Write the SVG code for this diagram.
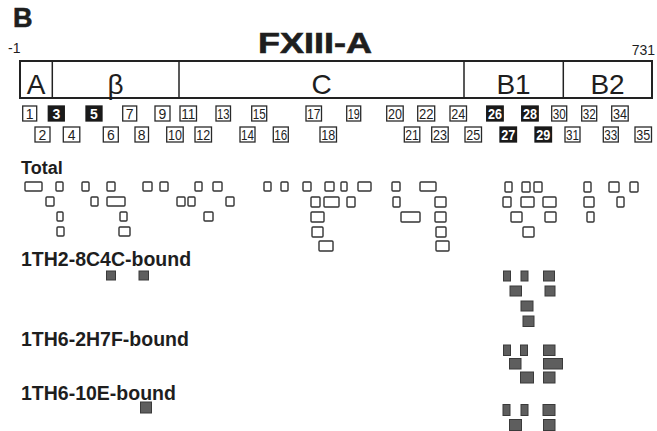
<svg xmlns="http://www.w3.org/2000/svg" width="657" height="431" viewBox="0 0 657 431">
<style>
text{font-family:"Liberation Sans",Arial,sans-serif;fill:#1e1e1e}
.nb{fill:#fff;stroke:#2a2a2a;stroke-width:1.3}
.nbd{fill:#1a1a1a;stroke:#1a1a1a;stroke-width:1.3}
.nt{font-size:14px;text-anchor:middle}
.ntd{font-size:14px;text-anchor:middle;fill:#fff;font-weight:bold}
.tb{fill:#fff;stroke:#333;stroke-width:1.4}
.gb{fill:#5e5e5e;stroke:#3a3a3a;stroke-width:1}
.lbl{font-size:19.5px;font-weight:bold}
.dom{font-size:28px;text-anchor:middle}
</style>
<rect width="657" height="431" fill="#fff"/>
<g id="header">
<text x="13" y="27" font-size="27" font-weight="bold" fill="#444" stroke="#222" stroke-width="0.6">B</text>
<text x="258" y="53" font-size="29" font-weight="bold" fill="#3c3c3c" stroke="#222" stroke-width="0.6" textLength="114" lengthAdjust="spacingAndGlyphs">FXIII-A</text>
<text x="8" y="53" font-size="14">-1</text>
<text x="655" y="55" font-size="14" text-anchor="end">731</text>
</g>
<g id="domain-bar">
<rect x="20" y="61" width="632" height="37" fill="#fff" stroke="#222" stroke-width="2"/>
<line x1="52.3" y1="61" x2="52.3" y2="98" stroke="#222" stroke-width="1.5"/>
<line x1="179" y1="61" x2="179" y2="98" stroke="#222" stroke-width="1.5"/>
<line x1="464" y1="61" x2="464" y2="98" stroke="#222" stroke-width="1.5"/>
<line x1="563.3" y1="61" x2="563.3" y2="98" stroke="#222" stroke-width="1.5"/>
<text class="dom" x="36" y="94">A</text>
<text class="dom" x="115.5" y="94">β</text>
<text class="dom" x="321.5" y="94">C</text>
<text class="dom" x="513.5" y="94">B1</text>
<text class="dom" x="607.5" y="94">B2</text>
</g>
<g id="epitopes">
<g id="n1"><rect class="nb" x="22.7" y="106" width="14" height="15"/><text class="nt" x="29.7" y="119">1</text></g>
<g id="n3"><rect class="nbd" x="48.3" y="106" width="16" height="15"/><text class="ntd" x="56.3" y="119">3</text></g>
<g id="n5"><rect class="nbd" x="86" y="106" width="16" height="15"/><text class="ntd" x="94" y="119">5</text></g>
<g id="n7"><rect class="nb" x="122.7" y="106" width="14" height="15"/><text class="nt" x="129.7" y="119">7</text></g>
<g id="n9"><rect class="nb" x="155" y="106" width="15" height="15"/><text class="nt" x="162.5" y="119">9</text></g>
<g id="n11"><rect class="nb" x="180" y="106" width="16.5" height="15"/><text class="nt" x="188.25" y="119" textLength="14" lengthAdjust="spacingAndGlyphs">11</text></g>
<g id="n13"><rect class="nb" x="216" y="106" width="14.5" height="15"/><text class="nt" x="223.25" y="119" textLength="12.5" lengthAdjust="spacingAndGlyphs">13</text></g>
<g id="n15"><rect class="nb" x="251.7" y="106" width="15" height="15"/><text class="nt" x="259.2" y="119" textLength="13" lengthAdjust="spacingAndGlyphs">15</text></g>
<g id="n17"><rect class="nb" x="306" y="106" width="15.5" height="15"/><text class="nt" x="313.75" y="119" textLength="13.5" lengthAdjust="spacingAndGlyphs">17</text></g>
<g id="n19"><rect class="nb" x="346.7" y="106" width="14" height="15"/><text class="nt" x="353.7" y="119" textLength="12" lengthAdjust="spacingAndGlyphs">19</text></g>
<g id="n20"><rect class="nb" x="386.7" y="106" width="16.5" height="15"/><text class="nt" x="394.95" y="119" textLength="14" lengthAdjust="spacingAndGlyphs">20</text></g>
<g id="n22"><rect class="nb" x="417.7" y="106" width="17" height="15"/><text class="nt" x="426.2" y="119" textLength="14.5" lengthAdjust="spacingAndGlyphs">22</text></g>
<g id="n24"><rect class="nb" x="450" y="106" width="16.5" height="15"/><text class="nt" x="458.25" y="119" textLength="14" lengthAdjust="spacingAndGlyphs">24</text></g>
<g id="n26"><rect class="nbd" x="486.7" y="106" width="16.5" height="15"/><text class="ntd" x="494.95" y="119" textLength="14" lengthAdjust="spacingAndGlyphs">26</text></g>
<g id="n28"><rect class="nbd" x="521.7" y="106" width="16.5" height="15"/><text class="ntd" x="529.95" y="119" textLength="14" lengthAdjust="spacingAndGlyphs">28</text></g>
<g id="n30"><rect class="nb" x="551.7" y="106" width="15" height="15"/><text class="nt" x="559.2" y="119" textLength="13" lengthAdjust="spacingAndGlyphs">30</text></g>
<g id="n32"><rect class="nb" x="581.7" y="106" width="15" height="15"/><text class="nt" x="589.2" y="119" textLength="13" lengthAdjust="spacingAndGlyphs">32</text></g>
<g id="n34"><rect class="nb" x="611.7" y="106" width="16.5" height="15"/><text class="nt" x="619.95" y="119" textLength="14" lengthAdjust="spacingAndGlyphs">34</text></g>
<g id="n2"><rect class="nb" x="35" y="127" width="15" height="15"/><text class="nt" x="42.5" y="140">2</text></g>
<g id="n4"><rect class="nb" x="63.3" y="127" width="16.5" height="15"/><text class="nt" x="71.55" y="140">4</text></g>
<g id="n6"><rect class="nb" x="103.3" y="127" width="15" height="15"/><text class="nt" x="110.8" y="140">6</text></g>
<g id="n8"><rect class="nb" x="135" y="127" width="13.5" height="15"/><text class="nt" x="141.75" y="140">8</text></g>
<g id="n10"><rect class="nb" x="166.7" y="127" width="16.5" height="15"/><text class="nt" x="174.95" y="140" textLength="14" lengthAdjust="spacingAndGlyphs">10</text></g>
<g id="n12"><rect class="nb" x="195" y="127" width="16.5" height="15"/><text class="nt" x="203.25" y="140" textLength="14" lengthAdjust="spacingAndGlyphs">12</text></g>
<g id="n14"><rect class="nb" x="240" y="127" width="15" height="15"/><text class="nt" x="247.5" y="140" textLength="13" lengthAdjust="spacingAndGlyphs">14</text></g>
<g id="n16"><rect class="nb" x="273.3" y="127" width="15" height="15"/><text class="nt" x="280.8" y="140" textLength="13" lengthAdjust="spacingAndGlyphs">16</text></g>
<g id="n18"><rect class="nb" x="320" y="127" width="16.5" height="15"/><text class="nt" x="328.25" y="140" textLength="14" lengthAdjust="spacingAndGlyphs">18</text></g>
<g id="n21"><rect class="nb" x="404.3" y="127" width="15.5" height="15"/><text class="nt" x="412.05" y="140" textLength="13.5" lengthAdjust="spacingAndGlyphs">21</text></g>
<g id="n23"><rect class="nb" x="431.7" y="127" width="16.5" height="15"/><text class="nt" x="439.95" y="140" textLength="14" lengthAdjust="spacingAndGlyphs">23</text></g>
<g id="n25"><rect class="nb" x="465" y="127" width="16.5" height="15"/><text class="nt" x="473.25" y="140" textLength="14" lengthAdjust="spacingAndGlyphs">25</text></g>
<g id="n27"><rect class="nbd" x="500" y="127" width="16.5" height="15"/><text class="ntd" x="508.25" y="140" textLength="14" lengthAdjust="spacingAndGlyphs">27</text></g>
<g id="n29"><rect class="nbd" x="535" y="127" width="16.5" height="15"/><text class="ntd" x="543.25" y="140" textLength="14" lengthAdjust="spacingAndGlyphs">29</text></g>
<g id="n31"><rect class="nb" x="565" y="127" width="15" height="15"/><text class="nt" x="572.5" y="140" textLength="13" lengthAdjust="spacingAndGlyphs">31</text></g>
<g id="n33"><rect class="nb" x="603.3" y="127" width="15" height="15"/><text class="nt" x="610.8" y="140" textLength="13" lengthAdjust="spacingAndGlyphs">33</text></g>
<g id="n35"><rect class="nb" x="635" y="127" width="16.5" height="15"/><text class="nt" x="643.25" y="140" textLength="14" lengthAdjust="spacingAndGlyphs">35</text></g>
</g>
<g id="total">
<text x="21" y="174" font-size="18" font-weight="bold">Total</text>
<rect class="tb" x="25" y="182" width="17" height="9" rx="1"/>
<rect class="tb" x="56" y="182" width="7" height="9" rx="1"/>
<rect class="tb" x="82" y="182" width="7" height="9" rx="1"/>
<rect class="tb" x="107" y="182" width="8" height="9" rx="1"/>
<rect class="tb" x="143" y="182" width="9" height="9" rx="1"/>
<rect class="tb" x="160" y="182" width="8" height="9" rx="1"/>
<rect class="tb" x="195" y="182" width="7" height="9" rx="1"/>
<rect class="tb" x="213" y="182" width="9" height="9" rx="1"/>
<rect class="tb" x="264" y="182" width="7" height="9" rx="1"/>
<rect class="tb" x="281" y="182" width="7" height="9" rx="1"/>
<rect class="tb" x="303" y="182" width="8" height="9" rx="1"/>
<rect class="tb" x="325" y="182" width="9" height="9" rx="1"/>
<rect class="tb" x="341" y="182" width="6" height="9" rx="1"/>
<rect class="tb" x="358" y="182" width="13" height="9" rx="1"/>
<rect class="tb" x="392" y="182" width="8" height="9" rx="1"/>
<rect class="tb" x="420" y="182" width="16" height="9" rx="1"/>
<rect class="tb" x="505" y="182" width="7" height="10" rx="1"/>
<rect class="tb" x="522" y="182" width="8" height="10" rx="1"/>
<rect class="tb" x="534" y="182" width="8" height="10" rx="1"/>
<rect class="tb" x="584" y="182" width="7" height="10" rx="1"/>
<rect class="tb" x="609" y="182" width="10" height="10" rx="1"/>
<rect class="tb" x="630" y="182" width="8" height="10" rx="1"/>
<rect class="tb" x="46" y="197" width="8" height="9" rx="1"/>
<rect class="tb" x="91" y="197" width="7" height="9" rx="1"/>
<rect class="tb" x="107" y="197" width="18" height="9" rx="1"/>
<rect class="tb" x="177" y="197" width="8" height="9" rx="1"/>
<rect class="tb" x="188" y="197" width="7" height="9" rx="1"/>
<rect class="tb" x="226" y="197" width="8" height="9" rx="1"/>
<rect class="tb" x="311" y="197" width="9" height="10" rx="1"/>
<rect class="tb" x="324" y="197" width="15" height="10" rx="1"/>
<rect class="tb" x="347" y="197" width="8" height="10" rx="1"/>
<rect class="tb" x="393" y="197" width="7" height="10" rx="1"/>
<rect class="tb" x="435" y="197" width="11" height="10" rx="1"/>
<rect class="tb" x="503" y="197" width="8" height="10" rx="1"/>
<rect class="tb" x="521" y="197" width="13" height="10" rx="1"/>
<rect class="tb" x="543" y="197" width="13" height="10" rx="1"/>
<rect class="tb" x="584" y="197" width="10" height="10" rx="1"/>
<rect class="tb" x="617" y="197" width="7" height="10" rx="1"/>
<rect class="tb" x="57" y="212" width="6" height="9" rx="1"/>
<rect class="tb" x="120" y="212" width="7" height="9" rx="1"/>
<rect class="tb" x="204" y="212" width="9" height="9" rx="1"/>
<rect class="tb" x="311" y="212" width="13" height="10" rx="1"/>
<rect class="tb" x="401" y="212" width="19" height="10" rx="1"/>
<rect class="tb" x="435" y="212" width="11" height="10" rx="1"/>
<rect class="tb" x="511" y="212" width="11" height="10" rx="1"/>
<rect class="tb" x="545" y="212" width="11" height="10" rx="1"/>
<rect class="tb" x="587" y="212" width="7" height="10" rx="1"/>
<rect class="tb" x="57" y="227" width="7" height="9" rx="1"/>
<rect class="tb" x="119" y="227" width="11" height="9" rx="1"/>
<rect class="tb" x="312" y="227" width="11" height="10" rx="1"/>
<rect class="tb" x="436" y="227" width="10" height="10" rx="1"/>
<rect class="tb" x="523" y="227" width="11" height="10" rx="1"/>
<rect class="tb" x="319" y="241" width="14" height="10" rx="1"/>
<rect class="tb" x="436" y="241" width="13" height="10" rx="1"/>
</g>
<g id="bound-8C4C">
<text class="lbl" x="21" y="266">1TH2-8C4C-bound</text>
<rect class="gb" x="106.5" y="271" width="9" height="9"/>
<rect class="gb" x="139" y="271" width="9.5" height="9"/>
<rect class="gb" x="503.5" y="271" width="7" height="10"/>
<rect class="gb" x="521" y="271" width="7" height="10"/>
<rect class="gb" x="543.5" y="271" width="11" height="10"/>
<rect class="gb" x="510" y="286" width="11.5" height="10"/>
<rect class="gb" x="545" y="286" width="10" height="10"/>
<rect class="gb" x="521" y="301" width="12" height="10"/>
<rect class="gb" x="523" y="316" width="11" height="10.5"/>
</g>
<g id="bound-2H7F">
<text class="lbl" x="21" y="346">1TH6-2H7F-bound</text>
<rect class="gb" x="503.5" y="345" width="7" height="10.5"/>
<rect class="gb" x="520.5" y="345" width="7" height="10.5"/>
<rect class="gb" x="543.5" y="345" width="11.5" height="10.5"/>
<rect class="gb" x="509.5" y="358.5" width="11.5" height="10.5"/>
<rect class="gb" x="543.5" y="358.5" width="19" height="10.5"/>
<rect class="gb" x="520.5" y="372" width="13" height="11"/>
<rect class="gb" x="543.5" y="372" width="11.5" height="11"/>
</g>
<g id="bound-10E">
<text class="lbl" x="21" y="400">1TH6-10E-bound</text>
<rect class="gb" x="140.5" y="402" width="11" height="11"/>
<rect class="gb" x="503" y="404.5" width="7" height="11"/>
<rect class="gb" x="521" y="404.5" width="7" height="11"/>
<rect class="gb" x="543" y="404.5" width="12" height="11"/>
<rect class="gb" x="509.5" y="419.5" width="12" height="11"/>
<rect class="gb" x="543.5" y="419.5" width="11.5" height="11"/>
</g>
</svg>
